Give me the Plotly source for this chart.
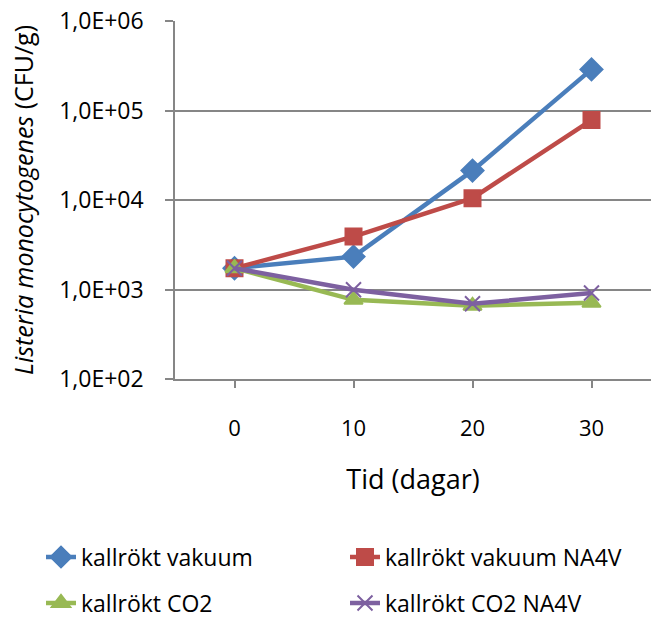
import plotly.graph_objects as go

days = [0, 10, 20, 30]
vakuum = [1730, 2330, 21300, 288000]
vakuum_na4v = [1730, 3900, 10470, 78300]
co2 = [1730, 767, 658, 711]
co2_na4v = [1730, 993, 692, 912]

y_tickvals = [1e2, 1e3, 1e4, 1e5, 1e6]
y_ticktext = ["1,0E+02", "1,0E+03", "1,0E+04", "1,0E+05", "1,0E+06"]
x_tickvals = [0, 10, 20, 30]

FONT = "Open Sans"
grid = "#868686"

series = [
    ("kallrökt vakuum", vakuum, "#4A7EBB", "diamond", 17, "legend"),
    ("kallrökt vakuum NA4V", vakuum_na4v, "#BE4B48", "square", 16, "legend2"),
    ("kallrökt CO2", co2, "#98B954", "triangle-up", 16, "legend3"),
    ("kallrökt CO2 NA4V", co2_na4v, "#7D60A0", "x-thin-open", 15, "legend4"),
]

fig = go.Figure()
for name, vals, col, sym, sz, lg in series:
    fig.add_trace(go.Scatter(
        x=days, y=vals, name=name, mode="lines+markers", legend=lg,
        showlegend=True,
        line=dict(color=col, width=4.5),
        marker=dict(symbol=sym, size=sz, color=col, line=dict(color=col, width=2)),
    ))

leg_common = dict(orientation="h", xanchor="left", yanchor="middle",
                  xref="container", yref="container",
                  font=dict(family=FONT, size=23, color="#000000"),
                  bgcolor="rgba(0,0,0,0)")

col1_x, col2_x = 41 / 652, 345 / 652
row1_y, row2_y = 1 - 557 / 618, 1 - 603 / 618

fig.update_layout(
    width=652, height=618,
    showlegend=True,
    margin=dict(l=175, r=1, t=21, b=239),
    paper_bgcolor="white", plot_bgcolor="white",
    font=dict(family=FONT, color="#000000"),
    legend=dict(x=col1_x, y=row1_y, **leg_common),
    legend2=dict(x=col2_x, y=row1_y, **leg_common),
    legend3=dict(x=col1_x, y=row2_y, **leg_common),
    legend4=dict(x=col2_x, y=row2_y, **leg_common),
    xaxis=dict(
        range=[-5, 35], tickvals=x_tickvals, ticks="outside", ticklen=7,
        tickcolor=grid, tickwidth=1.5, showline=True, linecolor=grid, linewidth=1.5,
        showgrid=False, zeroline=False, automargin=False,
        tickfont=dict(family=FONT, size=22), ticklabelstandoff=22,
        title=dict(text="Tid (dagar)", font=dict(family=FONT, size=27), standoff=29),
    ),
    yaxis=dict(
        type="log", range=[2, 6], tickvals=y_tickvals, ticktext=y_ticktext,
        ticks="outside", ticklen=8, tickcolor=grid, tickwidth=1.5,
        showline=True, linecolor=grid, linewidth=1.5, automargin=False,
        showgrid=True, gridcolor=grid, gridwidth=1.5, zeroline=False,
        tickfont=dict(family=FONT, size=23), ticklabelstandoff=17,
        title=dict(text="<i>Listeria monocytogenes</i> (CFU/g)",
                   font=dict(family=FONT, size=25), standoff=18),
    ),
)

fig.write_html("out.html")
